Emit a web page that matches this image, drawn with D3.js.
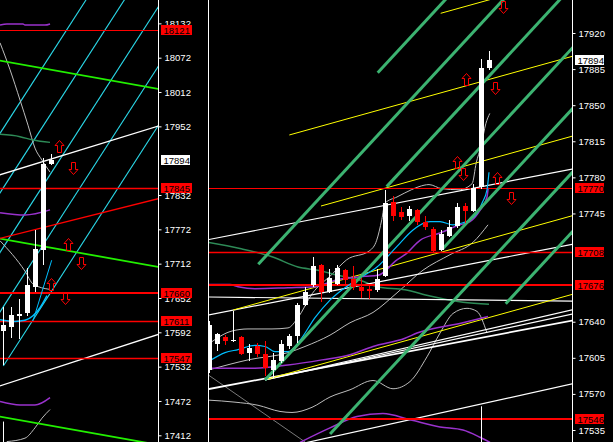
<!DOCTYPE html>
<html><head><meta charset="utf-8">
<script src="https://cdn.jsdelivr.net/npm/d3@7"></script>
<style>html,body{margin:0;padding:0;background:#000;overflow:hidden}</style>
</head><body>
<svg id="c" width="613" height="442"></svg>
<script>
// ---------------- DATA ----------------
// candles: [open, high, low, close]
const LEFT_CANDLES = [
  [17595,17636,17535,17604],[17602,17637,17582,17622],[17620,17650,17580,17624],
  [17625,17704,17621,17675],[17672,17771,17663,17738],[17736,17896,17710,17887],
  [17887,17904,17884,17894]
];
const RIGHT_CANDLES = [
  [17593,17641,17590,17637],[17618,17629,17612,17628],[17625,17627,17617,17621],
  [17622,17650,17620,17622],[17625,17626,17608,17609],[17610,17618,17602,17615],
  [17616,17619,17606,17609],[17609,17621,17587,17595],[17593,17610,17585,17603],
  [17602,17622,17600,17618],[17616,17628,17614,17626],[17626,17658,17619,17656],
  [17656,17674,17655,17669],[17676,17703,17674,17694],[17695,17696,17659,17669],
  [17669,17691,17668,17682],[17677,17695,17676,17692],[17690,17691,17676,17680],
  [17681,17694,17671,17674],[17674,17682,17663,17670],[17672,17676,17662,17670],
  [17671,17691,17669,17681],[17684,17768,17683,17755],[17756,17762,17738,17743],
  [17746,17751,17739,17742],[17743,17752,17738,17749],[17748,17749,17734,17737],
  [17737,17743,17729,17732],[17730,17732,17708,17709],[17710,17729,17709,17725],
  [17723,17739,17722,17732],[17733,17755,17731,17751],[17752,17755,17736,17747],
  [17747,17774,17746,17770],[17771,17895,17769,17886],[17886,17903,17884,17894]
];
// tick labels visible in the reference (ones fully covered by price boxes are not shown)
const LEFT_TICKS  = [18132,18072,18012,17952,17832,17772,17712,17652,17592,17532,17472,17412];
const RIGHT_TICKS = [17920,17885,17850,17815,17780,17745,17640,17605,17570,17535];
const LEFT_LEVELS  = [18121,17845,17660,17611,17547];
const RIGHT_LEVELS = [17770,17708,17676,17546];
const LAST_PRICE = 17894;

// left panel lines  ([bar, price] points)
const L_CYAN = [[0,17533],[-1,17615],[-1,17719],[-1,17823],[-1,17927]]; // ray starts
const L_CYAN_SLOPE = 21.7;           // price per bar
const L_LIME = [[-0.5,18067],[-0.5,17756],[-0.5,17445]];
const L_LIME_SLOPE = -2.5;
const L_WHITE = [[[-0.5,17867],[19.5,17953]],[[-0.5,17498],[19.5,17589]]];
const L_RED_TREND = [[-0.5,17756],[19.5,17826]];
const L_GRAY_UP  = [[-0.41,18098],[0.84,18051],[2.09,17998],[3.09,17954],[3.96,17914],[4.84,17893],[5.84,17872]];
const L_GRAY_MID = [[-0.41,17752],[2.71,17699],[3.75,17676],[5.84,17667]];
const L_GRAY_LOW = [[0.43,17401],[2.71,17407],[3.96,17425],[4.84,17442],[5.84,17457]];
const L_PURPLE_TOP = [[-0.41,18129],[0.46,18131],[2.46,18131],[2.71,18129],[5.21,18129],[5.84,18131]];
const L_PURPLE_MID = [[-0.41,17801],[2.71,17797],[5.84,17806]];
const L_PURPLE_LOW = [[-0.41,17471],[2.09,17465],[3.96,17465],[5.84,17478]];
const L_DKGREEN = [[-0.41,17938],[2.09,17934],[3.71,17928],[5.84,17924]];
const L_BLUE = [[-0.41,17614],[1.46,17611],[2.71,17613],[3.71,17621],[4.59,17635],[5.46,17656]];
const L_BLUE_LINE = [[3.71,17612],[6.05,17718]];
const L_SEPARATOR = [0,17436];
const L_ARROWS = [["up",6.96,17918],["down",8.75,17880],["up",8.03,17746],["down",9.71,17714],["up",5.96,17677],["down",7.75,17652]];

// right panel lines
const R_GREEN = [[21.09,17881.5],[6.16,17695.7],[22.21,17771],[7,17583.5],[29.16,17710.2],[15.13,17531.1],[37.09,17657.5]];
const R_GREEN_SLOPE = 8.38;
const R_YELLOW = [[10.04,17821.1],[14,17752.2],[28.96,17939.1],[3.04,17651.4],[7.38,17584.5]];
const R_YELLOW_SLOPE = 2.157;
const R_WHITE = [
  [[-0.5,17719],[46,17789]],
  [[-0.5,17646],[46,17716]],
  [[-0.5,17664],[46,17660]],
  [[7,17583.5],[46,17652.5]],
  [[7,17583.5],[46,17648.5]],
  [[-0.5,17574],[46,17642]],
  [[11.375,17521.4],[46,17580.8]]
];
const R_DIM = [[-0.5,17590.6],[12,17523.4]];
const R_GRAY_UP = [[-0.125,17618],[2.875,17631],[4.875,17633],[7.875,17633],[9.875,17634],[11.125,17644],[12.875,17667],[15.375,17686],[17.2,17700],[20.1,17709],[20.96,17719],[21.6,17739],[22,17755],[23.5,17761],[25.3,17768],[26.25,17771],[27.5,17773],[29.1,17769],[31.25,17768],[32.9,17774],[33.4,17794],[34,17810],[34.6,17832],[35.1,17842]];
const R_GRAY_MID = [[-0.125,17593],[4.875,17603],[9.875,17610],[12,17616],[15.125,17627],[17.625,17639],[20.5,17649],[23.5,17668],[26.75,17690],[30.125,17705],[33,17717],[34.875,17734]];
const R_GRAY_LOW = [[-0.125,17564],[3.25,17562],[6.125,17559],[8.875,17553],[10.375,17552],[12.875,17557],[15.125,17567],[17.625,17574],[20.5,17583],[23,17575],[25.125,17582],[27.25,17606],[28.875,17629],[30.5,17648],[32.25,17653],[33.5,17650],[34.75,17629]];
const R_PURPLE_1 = [[-0.125,17676],[2.625,17676],[3.625,17674],[5.75,17672],[9.875,17673],[13.25,17674],[16.125,17681],[19.5,17684],[21.125,17685],[23.5,17700],[24.5,17705],[26.375,17719],[28.875,17726],[31.375,17734],[32.625,17737],[33.875,17748],[34.75,17761],[34.9,17770]];
const R_PURPLE_2 = [[-0.125,17595],[5.75,17595],[9.875,17598],[14.125,17603],[17.625,17608],[20.5,17616],[24.5,17624],[26,17629],[31.75,17639],[34.875,17645]];
const R_PURPLE_3 = [[11.375,17523],[15.125,17537],[18.5,17548],[21.75,17551],[25.125,17545],[28.875,17538],[31.75,17535],[33.875,17528],[35.125,17523]];
const R_BLUE = [[-0.125,17601],[2,17610],[3.625,17613],[5.75,17617],[7,17616],[8.25,17611],[9.875,17611],[11.375,17622],[13.25,17644],[15.125,17661],[18.5,17681],[21,17693],[23.5,17713],[25.5,17729],[27.625,17737],[28.875,17737],[30.5,17734],[31.75,17736],[32.625,17739],[33.5,17745],[34.125,17755],[34.75,17768],[35,17785]];
const R_DKGREEN = [[-0.125,17717],[3.875,17711],[7.875,17703],[11.125,17693],[13.625,17690],[16.125,17685],[18.625,17681],[21,17674],[24.5,17671],[27.625,17665],[31.75,17659],[35,17657]];
const R_SEPARATOR = [34,17558];
const R_ARROWS = [["down",36.79,17945],["up",32.09,17875],["down",35.75,17867],["up",31.04,17795],["down",31.75,17783],["up",36.04,17779],["down",37.71,17760]];

// ---------------- DRAW ----------------
const W = 613, H = 442;
const svg = d3.select("#c");
svg.append("rect").attr("width", W).attr("height", H).attr("fill", "#000");
const defs = svg.append("defs");
defs.append("clipPath").attr("id","clipL").append("rect").attr("x",0).attr("y",0).attr("width",158).attr("height",H);
defs.append("clipPath").attr("id","clipR").append("rect").attr("x",209).attr("y",0).attr("width",363).attr("height",H);

const xL = d3.scaleLinear().domain([0,6]).range([3.3,51.3]);
const yL = d3.scaleLinear().domain([17412,18072]).range([435.3,57.7]);
const xR = d3.scaleLinear().domain([0,35]).range([209,489]);
const yR = d3.scaleLinear().domain([17535,17920]).range([430,33]);

const FONT = "'Liberation Sans', Arial, sans-serif";

function makePanel(clipId, xs, ys, x0, x1) {
  const g = svg.append("g").attr("clip-path", `url(#${clipId})`);
  const lin = d3.line().x(d => xs(d[0])).y(d => ys(d[1]));
  const cur = d3.line().x(d => xs(d[0])).y(d => ys(d[1])).curve(d3.curveMonotoneX);
  return {
    g, xs, ys, x0, x1,
    line(pts, color, w) {
      g.append("path").attr("d", lin(pts)).attr("fill","none").attr("stroke",color).attr("stroke-width",w);
    },
    curve(pts, color, w) {
      g.append("path").attr("d", cur(pts)).attr("fill","none").attr("stroke",color).attr("stroke-width",w);
    },
    ray(start, slope, color, w) {
      const len = 60;
      this.line([start, [start[0]+len, start[1]+slope*len]], color, w);
    },
    level(p, color, w) {
      const y = Math.round(ys(p)) + (w % 2 ? 0.5 : 0);
      g.append("line").attr("x1", x0).attr("x2", x1).attr("y1", y).attr("y2", y)
        .attr("stroke", color).attr("stroke-width", w);
    },
    candles(data) {
      const cg = g.append("g").attr("shape-rendering","crispEdges");
      data.forEach((d, i) => {
        const [o, h, l, c] = d;
        const bull = c >= o;
        const col = bull ? "#ffffff" : "#ff0000";
        const x = Math.round(xs(i));
        cg.append("line").attr("x1", x+0.5).attr("x2", x+0.5).attr("y1", ys(h)).attr("y2", ys(l))
          .attr("stroke", col).attr("stroke-width", 1);
        const yt = ys(Math.max(o,c)), yb = ys(Math.min(o,c));
        cg.append("rect").attr("x", x-2).attr("width", 5).attr("y", yt)
          .attr("height", Math.max(1, yb-yt)).attr("fill", col);
      });
    },
    arrows(data) {
      const ag = g.append("g");
      const up = "M0,-6 L4.5,-1 L2,-1 L2,6 L-2,6 L-2,-1 L-4.5,-1 Z";
      data.forEach(([dir, b, p]) => {
        ag.append("path").attr("d", up)
          .attr("transform", `translate(${Math.round(xs(b))+0.5},${Math.round(ys(p))+0.5})` + (dir === "down" ? " scale(1,-1)" : ""))
          .attr("fill","none").attr("stroke","#ff0000").attr("stroke-width",1);
      });
    },
    separator(b, p) {
      const x = Math.round(xs(b)) + 0.5;
      g.append("line").attr("x1", x).attr("x2", x).attr("y1", ys(p)).attr("y2", H)
        .attr("stroke","#ffffff").attr("stroke-width",1);
    }
  };
}

// ---- LEFT PANEL ----
const PL = makePanel("clipL", xL, yL, 0, 158);
L_CYAN.forEach(s => PL.ray(s, L_CYAN_SLOPE, "#2ad8e8", 1.1));
PL.curve(L_PURPLE_TOP, "#9932cc", 1.5);
PL.curve(L_PURPLE_MID, "#9932cc", 1.5);
PL.curve(L_PURPLE_LOW, "#9932cc", 1.5);
PL.curve(L_GRAY_UP, "#bdbdbd", 1);
PL.curve(L_GRAY_MID, "#bdbdbd", 1);
PL.curve(L_GRAY_LOW, "#bdbdbd", 1);
PL.curve(L_DKGREEN, "#2e8b57", 1.5);
L_LIME.forEach(s => PL.ray(s, L_LIME_SLOPE, "#22f000", 1.8));
L_WHITE.forEach(s => PL.line(s, "#ffffff", 1.3));
PL.line(L_RED_TREND, "#ff0000", 1.3);
[1, 1.6, 2, 1.5, 1.5].forEach((w, i) => PL.level(LEFT_LEVELS[i], "#ff0000", w));
PL.curve(L_BLUE, "#00bfff", 1.5);
PL.line(L_BLUE_LINE, "#00bfff", 1);
PL.separator(L_SEPARATOR[0], L_SEPARATOR[1]);
PL.candles(LEFT_CANDLES);
PL.arrows(L_ARROWS);

// ---- RIGHT PANEL ----
const PR = makePanel("clipR", xR, yR, 209, 572);
PR.line(R_DIM, "#7a7a7a", 1);
PR.curve(R_GRAY_UP, "#bdbdbd", 1);
PR.curve(R_GRAY_MID, "#bdbdbd", 1);
PR.curve(R_GRAY_LOW, "#bdbdbd", 1);
PR.curve(R_DKGREEN, "#2e8b57", 1.5);
R_WHITE.forEach((s, i) => PR.line(s, "#ffffff", i === 5 ? 1.8 : 1.2));
R_YELLOW.forEach(s => PR.ray(s, R_YELLOW_SLOPE, "#ffff00", 1));
PR.curve(R_PURPLE_1, "#9932cc", 1.5);
PR.curve(R_PURPLE_2, "#9932cc", 1.5);
PR.curve(R_PURPLE_3, "#9932cc", 1.5);
[1, 1.5, 2, 2].forEach((w, i) => PR.level(RIGHT_LEVELS[i], "#ff0000", w));
PR.curve(R_BLUE, "#00bfff", 1.2);
R_GREEN.forEach(s => PR.ray(s, R_GREEN_SLOPE, "#3cb371", 3));
PR.separator(R_SEPARATOR[0], R_SEPARATOR[1]);
PR.candles(RIGHT_CANDLES);
PR.arrows(R_ARROWS);

// ---- AXES ----
function drawAxis(x, ys, ticks) {
  const ax = d3.axisRight(ys).tickValues(ticks).tickSize(3).tickPadding(3).tickFormat(d3.format("d"));
  const g = svg.append("g").attr("transform", `translate(${x + 0.5},0)`).call(ax);
  g.select(".domain").remove();
  g.selectAll(".tick line").attr("stroke", "#ffffff");
  g.selectAll(".tick text").attr("fill", "#ffffff").style("font-family", FONT).style("font-size", "9.5px");
  svg.append("line").attr("x1", x + 0.5).attr("x2", x + 0.5).attr("y1", 0).attr("y2", H)
    .attr("stroke", "#ffffff").attr("stroke-width", 1);
}
drawAxis(158, yL, LEFT_TICKS);
drawAxis(572, yR, RIGHT_TICKS);

// panel border line
svg.append("line").attr("x1",208.5).attr("x2",208.5).attr("y1",0).attr("y2",H).attr("stroke","#ffffff").attr("stroke-width",1);

function priceBox(x, w, y, val, bg, fg) {
  const cy = Math.round(y);
  svg.append("rect").attr("x", x).attr("y", cy - 5).attr("width", w).attr("height", 10).attr("fill", bg);
  svg.append("text").attr("x", x + 2.5).attr("y", cy + 3.6).attr("fill", fg)
    .style("font-family", FONT).style("font-size", "9.5px").text(d3.format("d")(val));
}
LEFT_LEVELS.forEach(v => priceBox(161, 31, yL(v), v, "#ff0000", "#000000"));
RIGHT_LEVELS.forEach(v => priceBox(575, 29, yR(v), v, "#ff0000", "#000000"));
priceBox(161, 29, yL(LAST_PRICE), LAST_PRICE, "#ffffff", "#000000");
priceBox(575, 29, yR(LAST_PRICE), LAST_PRICE, "#ffffff", "#000000");
</script>
</body></html>
